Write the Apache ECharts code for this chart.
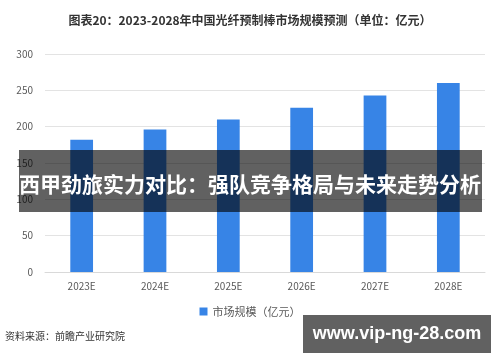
<!DOCTYPE html>
<html><head><meta charset="utf-8">
<script src="https://cdn.jsdelivr.net/npm/echarts@6/dist/echarts.min.js"></script>
<style>html,body{margin:0;padding:0;background:#fff}#c{width:500px;height:362px}</style>
</head><body><div id="c"></div>
<script>
const categories = ['2023E','2024E','2025E','2026E','2027E','2028E'];
const marketSize = [182, 196, 210, 226, 243, 260];
const yTicks = [0, 50, 100, 150, 200, 250, 300];
const seriesName = '市场规模（亿元）';
const titleText = '图表20：2023-2028年中国光纤预制棒市场规模预测（单位：亿元）';
const bannerText = '西甲劲旅实力对比：强队竞争格局与未来走势分析';
const sourceText = '资料来源：前瞻产业研究院';
const siteText = 'www.vip-ng-28.com';
const font = '"Noto Sans CJK SC", "Noto Sans", sans-serif';

const chart = echarts.init(document.getElementById('c'));
chart.setOption({
  animation: false,
  textStyle: {fontFamily: font},
  title: {text: titleText, left: 'center', top: 9,
    textStyle: {fontSize: 12, fontWeight: 'bold', color: '#333', fontFamily: font}},
  grid: {left: 45, right: 15, top: 54, bottom: 90, containLabel: false},
  legend: {data: [seriesName], top: 301, left: 'center', itemWidth: 8, itemHeight: 8, itemGap: 4,
    icon: 'rect', textStyle: {fontSize: 11, color: '#595959', fontFamily: font}},
  xAxis: {type: 'category', data: categories,
    axisLine: {lineStyle: {color: '#d9d9d9', width: 1}}, axisTick: {show: false},
    axisLabel: {color: '#595959', fontSize: 10, margin: 9}},
  yAxis: {type: 'value', min: yTicks[0], max: yTicks[yTicks.length-1], interval: 50,
    axisLine: {show: false}, axisTick: {show: false},
    splitLine: {lineStyle: {color: '#e3e3e3'}},
    axisLabel: {color: '#595959', fontSize: 10, margin: 12}},
  series: [{name: seriesName, type: 'bar', data: marketSize, barWidth: '31%',
    itemStyle: {color: '#3784e6'}}],
  graphic: [
    {type: 'text', left: 5, top: 331, style: {text: sourceText, fontSize: 10, fill: '#333', fontFamily: font}},
    {type: 'rect', shape: {x: 19, y: 150, width: 463, height: 62}, style: {fill: 'rgba(0,0,0,0.62)'}, z: 100},
    {type: 'text', z: 101, style: {text: bannerText, x: 250, y: 184, textAlign: 'center', textVerticalAlign: 'middle',
      fontSize: 21, fontWeight: 'bold', fill: '#fff', fontFamily: font}},
    {type: 'rect', shape: {x: 303, y: 315, width: 188, height: 38}, style: {fill: 'rgba(0,0,0,0.62)'}, z: 100},
    {type: 'text', z: 101, style: {text: siteText, x: 397, y: 334, textAlign: 'center', textVerticalAlign: 'middle',
      fontSize: 18, fontWeight: 'bold', fill: '#fff', fontFamily: '"Liberation Sans", Arial, sans-serif'}}
  ]
});
</script></body></html>
